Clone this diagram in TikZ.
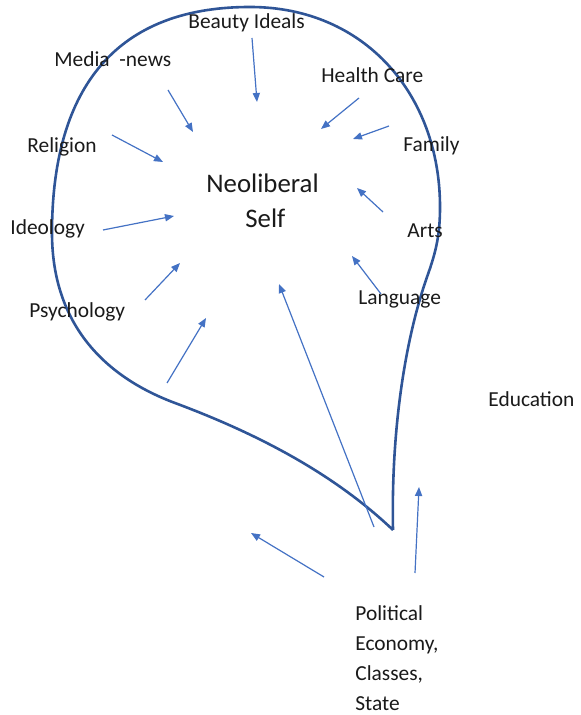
\documentclass[tikz,border=0pt]{standalone}
\usepackage{fontspec}
\setmainfont{Carlito}
\usetikzlibrary{arrows.meta}
\definecolor{bubble}{HTML}{2F5597}
\definecolor{arr}{HTML}{4472C4}
\definecolor{ink}{HTML}{1A1A1A}
\begin{document}
\begin{tikzpicture}[x=0.5pt,y=-0.5pt,
  lbl/.style={anchor=base west,inner sep=0pt,text=ink,font=\fontsize{10.7}{12}\selectfont},
  ttl/.style={anchor=base west,inner sep=0pt,text=ink,font=\fontsize{13.4}{16}\selectfont},
  infl/.style={draw=arr,line width=0.6pt,-{Triangle[length=4.5pt,width=3.6pt]}},
  bub/.style={draw=bubble,line width=1.3pt,line join=miter}]
\useasboundingbox (0,0) rectangle (580,715);
% bubble outline
\draw[bub] (393,530)
  .. controls (391,430) and (405,340) .. (427,277)
  .. controls (436,252) and (440,235) .. (440,207)
  .. controls (440,95) and (365,7) .. (250,7)
  .. controls (110,7) and (52,95) .. (52,233)
  .. controls (52,320) and (100,375) .. (175,403)
  .. controls (250,431) and (330,470) .. (393,530);
% labels
\node[lbl] (beauty) at (188,29) {Beauty Ideals};
\node[lbl] (media) at (54,67) {Media~ -news};
\node[lbl] (health) at (321,83) {Health Care};
\node[lbl] (religion) at (27,153) {Religion};
\node[lbl] (family) at (403,152) {Family};
\node[ttl] (neo) at (206,193) {Neoliberal};
\node[ttl] (self) at (245,228) {Self};
\node[lbl] (ideology) at (10,235) {Ideology};
\node[lbl] (arts) at (407,238) {Arts};
\node[lbl] (language) at (358,305) {Language};
\node[lbl] (psych) at (29,317) {Psychology};
\node[lbl] (educ) at (488,406) {Education};
\node[lbl,anchor=north west,align=left,font=\fontsize{10.7}{15}\selectfont] (polit) at (355,605)
  {Political\\Economy,\\Classes,\\State};
% arrow end points
\coordinate (b1) at (252,38);  \coordinate (b2) at (257,102);
\coordinate (m1) at (168,90);  \coordinate (m2) at (193,132);
\coordinate (r1) at (112,135); \coordinate (r2) at (163,162);
\coordinate (i1) at (103,230); \coordinate (i2) at (174,216);
\coordinate (h1) at (359,98);  \coordinate (h2) at (321,129);
\coordinate (f1) at (389,126); \coordinate (f2) at (353,139);
\coordinate (a1) at (383,212); \coordinate (a2) at (357,188);
\coordinate (l1) at (381,294); \coordinate (l2) at (352,256);
\coordinate (p1) at (145,300); \coordinate (p2) at (180,263);
\coordinate (q1) at (167,383); \coordinate (q2) at (206,318);
\coordinate (c1) at (374,527); \coordinate (c2) at (279,284);
\coordinate (d1) at (324,577); \coordinate (d2) at (251,533);
\coordinate (u1) at (415,573); \coordinate (u2) at (419,487);
\foreach \s/\t in {b1/b2,m1/m2,r1/r2,i1/i2,h1/h2,f1/f2,a1/a2,l1/l2,p1/p2,q1/q2,c1/c2,d1/d2,u1/u2}
  \draw[infl] (\s) -- (\t);
\end{tikzpicture}
\end{document}
